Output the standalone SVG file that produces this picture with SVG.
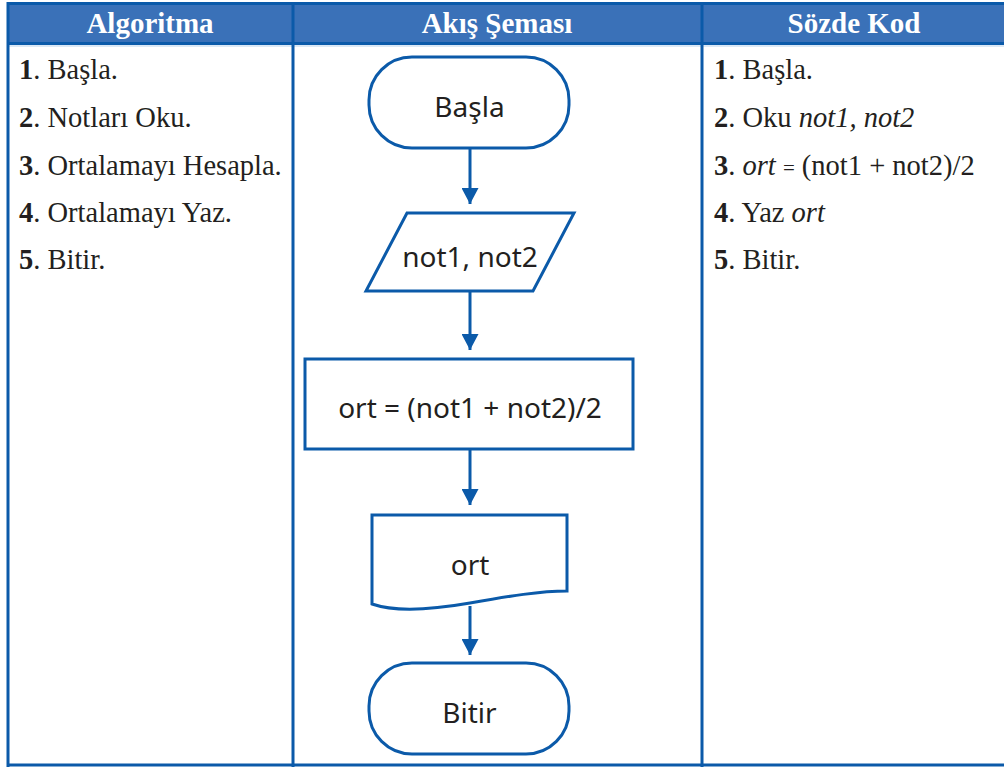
<svg xmlns="http://www.w3.org/2000/svg" width="1004" height="767" viewBox="0 0 1004 767">
<style>
.hdr{font-family:"Liberation Serif",serif;font-weight:bold;font-size:29px;fill:#ffffff;text-anchor:middle}
.tx{font-family:"Liberation Serif",serif;font-size:28.5px;fill:#231f20}
.b{font-weight:bold}
.i{font-style:italic}
.sh{fill:#ffffff;stroke:#0b5aa9;stroke-width:3}
.fl{font-family:"Noto Sans",sans-serif;font-size:28px;fill:#231f20;text-anchor:middle}
.ln{stroke:#0b5aa9;stroke-width:3;fill:none}
.bd{stroke:#0b5aa9;stroke-width:3;fill:none}
</style>
<defs>
<marker id="ah" viewBox="0 0 16 17" refX="16" refY="8.5" markerWidth="16" markerHeight="17" markerUnits="userSpaceOnUse" orient="auto">
<path d="M0,0 L16,8.5 L0,17 Z" fill="#0b5aa9"/>
</marker>
</defs>
<rect width="1004" height="767" fill="#ffffff"/>
<g id="table">
<rect x="7" y="2" width="997" height="42" fill="#3a71b8"/>
<line class="bd" x1="7" y1="3.5" x2="1004" y2="3.5"/>
<line class="bd" x1="7" y1="43.5" x2="1004" y2="43.5"/>
<line x1="7" y1="46" x2="1004" y2="46" stroke="#cfe0f2" stroke-width="1.5"/>
<line class="bd" x1="8" y1="2" x2="8" y2="767"/>
<line class="bd" x1="293" y1="2" x2="293" y2="767"/>
<line class="bd" x1="702" y1="2" x2="702" y2="767"/>
<line class="bd" x1="7" y1="765" x2="1004" y2="765"/>
<text class="hdr" x="150" y="33">Algoritma</text>
<text class="hdr" x="497" y="33">Akış Şeması</text>
<text class="hdr" x="854" y="33">Sözde Kod</text>
</g>
<g id="algoritma">
<text class="tx" x="19" y="79"><tspan class="b">1</tspan>. Başla.</text>
<text class="tx" x="19" y="127"><tspan class="b">2</tspan>. Notları Oku.</text>
<text class="tx" x="19" y="175"><tspan class="b">3</tspan>. Ortalamayı Hesapla.</text>
<text class="tx" x="19" y="222"><tspan class="b">4</tspan>. Ortalamayı Yaz.</text>
<text class="tx" x="19" y="269"><tspan class="b">5</tspan>. Bitir.</text>
</g>
<g id="sozde-kod">
<text class="tx" x="714" y="79"><tspan class="b">1</tspan>. Başla.</text>
<text class="tx" x="714" y="127"><tspan class="b">2</tspan>. Oku <tspan class="i">not1, not2</tspan></text>
<text class="tx" x="714" y="175"><tspan class="b">3</tspan>. <tspan class="i">ort</tspan> <tspan font-size="21">=</tspan> (not1 + not2)/2</text>
<text class="tx" x="714" y="222"><tspan class="b">4</tspan>. Yaz <tspan class="i">ort</tspan></text>
<text class="tx" x="714" y="269"><tspan class="b">5</tspan>. Bitir.</text>
</g>
<g id="connectors">
<line class="ln" x1="470" y1="148" x2="470" y2="204" marker-end="url(#ah)"/>
<line class="ln" x1="470" y1="292" x2="470" y2="350" marker-end="url(#ah)"/>
<line class="ln" x1="470" y1="449" x2="470" y2="505" marker-end="url(#ah)"/>
<line class="ln" x1="470" y1="606" x2="470" y2="655" marker-end="url(#ah)"/>
</g>
<g id="basla">
<rect class="sh" x="369" y="57" width="200" height="91" rx="43" ry="43"/>
<text class="fl" x="469.5" y="117">Başla</text>
</g>
<g id="oku">
<polygon class="sh" points="407,213 574,213 533,291 366,291"/>
<text class="fl" x="470" y="267">not1, not2</text>
</g>
<g id="hesapla">
<rect class="sh" x="305" y="359" width="328" height="90"/>
<text class="fl" x="470" y="418">ort = (not1 + not2)/2</text>
</g>
<g id="yaz">
<path class="sh" d="M372,515 H567 V591 C540,591 510,596 470,603 C430,610 395,612 372,604 Z"/>
<text class="fl" x="470" y="575">ort</text>
</g>
<g id="bitir">
<rect class="sh" x="369" y="663" width="200" height="91" rx="43" ry="43"/>
<text class="fl" x="469.5" y="723">Bitir</text>
</g>
</svg>
